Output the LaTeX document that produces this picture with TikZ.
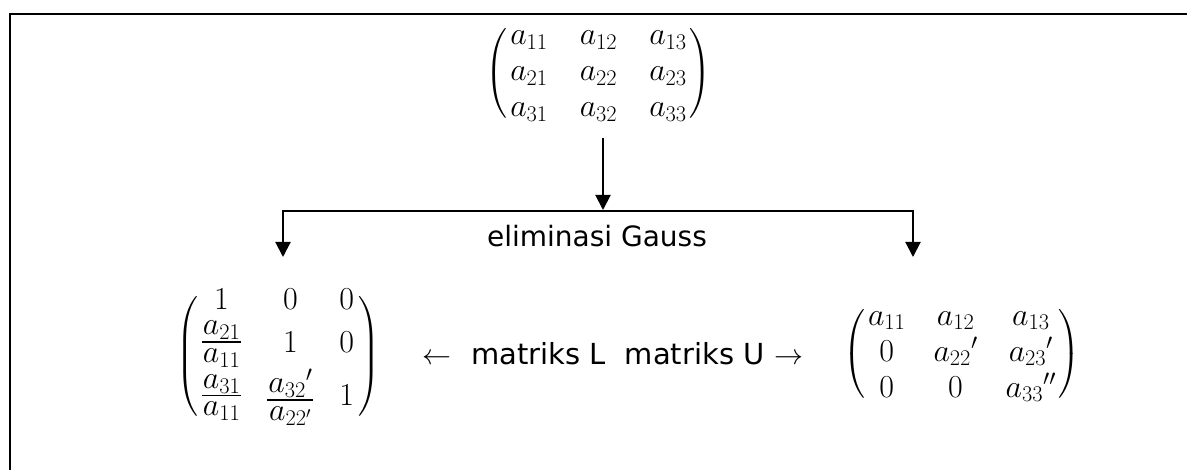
\RequirePackage{fix-cm}
\documentclass[tikz,border=0pt]{standalone}
\usepackage{amsmath}
\usepackage{fontspec}
\setmainfont{DejaVu Sans}
\usetikzlibrary{arrows.meta,calc}

% slightly shorter delimiters around the matrices
\delimiterfactor=800
\delimitershortfall=30pt

% 3x3 matrix in round brackets: #1 column gap (half), #2 trim at the brackets
\newcommand{\rmat}[3]{\setlength\arraycolsep{#1}%
  \left(\hspace{#2}\begin{array}{ccc}#3\end{array}\hspace{#2}\right)}

% compact full-size fraction, centred on the math axis
\newcommand{\mfrac}[2]{\vcenter{\hbox{\setlength\arraycolsep{1pt}%
  \setlength\arrayrulewidth{1.4pt}\renewcommand\arraystretch{0.62}%
  $\begin{array}{c}#1\\\hline\rule{0pt}{20pt}#2\end{array}$}}}

\begin{document}
\begin{tikzpicture}[x=1pt,y=-1pt,
  frame/.style={line width=2pt},
  conn/.style={line width=2pt,line join=miter},
  tip/.style={-{Triangle[width=15pt,length=15pt]}},
  mat/.style={inner sep=0pt,font=\fontsize{32}{36}\selectfont},
  lbl/.style={inner sep=0pt,anchor=base,font=\fontsize{28}{34}\selectfont}]

\useasboundingbox (0,0) rectangle (1187,470);
\clip (0,0) rectangle (1187,470);

% outer frame (only its top and left edges fall on the page)
\draw[frame] (10,490) -- (10,14) -- (1210,14);

% original matrix A
\node[mat] (A) at (598.5,73.5)
  {$\rmat{16pt}{-13pt}{
     a_{11} & a_{12} & a_{13}\\
     a_{21} & a_{22} & a_{23}\\
     a_{31} & a_{32} & a_{33}}$};

% lower triangular factor L
\node[mat,font=\fontsize{32}{34}\selectfont] (L) at (278,356.5)
  {$\rmat{13pt}{-9pt}{
     1 & 0 & 0\\
     \mfrac{a_{21}}{a_{11}} & 1 & 0\\
     \mfrac{a_{31}}{a_{11}} & \mfrac{{a_{32}}'}{a_{22'}} & 1}$};

% upper triangular factor U
\node[mat] (U) at (962,354)
  {$\rmat{14pt}{-11pt}{
     a_{11} & a_{12} & a_{13}\\
     0 & {a_{22}}' & {a_{23}}'\\
     0 & 0 & {a_{33}}''}$};

% branching points of the connector
\coordinate (split) at (603,211);
\coordinate (bl) at (283,211);
\coordinate (br) at (913,211);
\coordinate (lt) at (283,257);
\coordinate (rt) at (913,257);

\draw[conn,tip] ($(A.south -| split)+(0,10)$) -- ($(split)+(0,-1)$);
\draw[conn,{Triangle[width=15pt,length=15pt]}-{Triangle[width=15pt,length=15pt]}]
  (lt) -- (bl) -- (br) -- (rt);

% labels
\node[lbl] (elim) at (597,247) {eliminasi Gauss};
\node[lbl,font=\fontsize{29}{34}\selectfont] (lu) at (613,365)
  {$\leftarrow$\hspace{20pt}matriks L\hspace{19pt}matriks U\hspace{10pt}$\rightarrow$};

\end{tikzpicture}
\end{document}
